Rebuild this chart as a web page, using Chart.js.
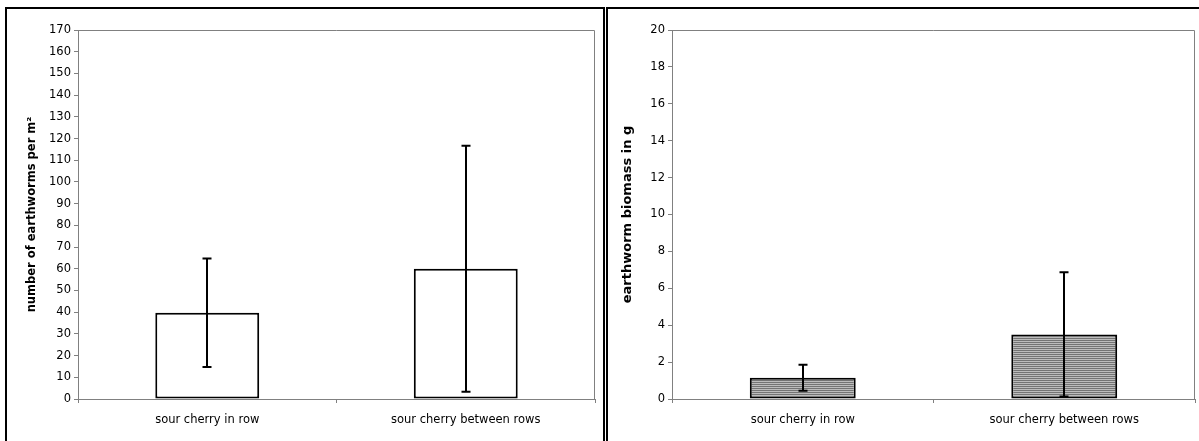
<!DOCTYPE html>
<html>
<head>
<meta charset="utf-8">
<script src="https://cdn.jsdelivr.net/npm/chart.js@4"></script>
<style>
  html, body { margin: 0; padding: 0; background: #fff; overflow: hidden; }
  body { width: 1199px; height: 441px; position: relative; }
  canvas { position: absolute; top: 0; }
  .panel { position: absolute; top: 7px; height: 500px; border: 2px solid #000; box-sizing: border-box; pointer-events: none; z-index: 2; }
</style>
</head>
<body>
<canvas id="leftChart" width="604" height="441" style="left:0px"></canvas>
<canvas id="rightChart" width="593" height="441" style="left:606px"></canvas>
<div class="panel" style="left:5px; width:600px"></div>
<div class="panel" style="left:606px; width:700px"></div>
<script>
// data
var categories = ["sour cherry in row", "sour cherry between rows"];

var wormCount = [39.7, 60];
var wormCountErr = [25, 56.7];

var wormBiomass = [1.15, 3.5];
var wormBiomassErr = [0.7, 3.37];

var fontFam = "'DejaVu Sans', sans-serif";
var axisGrey = "#808080";

// horizontal line hatch for the biomass bars
function hatch() {
  var c = document.createElement("canvas");
  c.width = 4; c.height = 2;
  var g = c.getContext("2d");
  g.fillStyle = "#bcbcbc"; g.fillRect(0, 0, 4, 2);
  g.fillStyle = "#747474"; g.fillRect(0, 0, 4, 1);
  return g.createPattern(c, "repeat");
}

// grey frame round the plot area, like the old spreadsheet look
var frame = {
  id: "frame",
  beforeDatasetsDraw: function(chart) {
    var a = chart.chartArea, ctx = chart.ctx;
    ctx.save();
    ctx.strokeStyle = axisGrey;
    ctx.lineWidth = 1;
    ctx.beginPath();
    ctx.moveTo(a.left, a.top + 0.5);
    ctx.lineTo(a.right - 0.5, a.top + 0.5);
    ctx.lineTo(a.right - 0.5, a.bottom);
    ctx.stroke();
    ctx.restore();
  }
};

// error bars through the chart's own scales
var errBars = {
  id: "errBars",
  afterDatasetsDraw: function(chart, args, opts) {
    var xs = chart.scales.x, ys = chart.scales.y, ctx = chart.ctx;
    var vals = chart.data.datasets[0].data;
    ctx.save();
    ctx.strokeStyle = "#000";
    ctx.lineWidth = 2;
    vals.forEach(function(v, i) {
      var e = opts.errors[i];
      var x = Math.round(xs.getPixelForValue(i));
      var hi = ys.getPixelForValue(v + e);
      var lo = ys.getPixelForValue(v - e);
      ctx.beginPath();
      ctx.moveTo(x, hi); ctx.lineTo(x, lo);
      ctx.moveTo(x - 4.5, hi); ctx.lineTo(x + 4.5, hi);
      ctx.moveTo(x - 4.5, lo); ctx.lineTo(x + 4.5, lo);
      ctx.stroke();
    });
    ctx.restore();
  }
};

function makeChart(id, values, errors, fill, yMax, yStep, yTitle, titleSize, yWidth, titlePad, padRight, barPct) {
  return new Chart(document.getElementById(id), {
    type: "bar",
    data: {
      labels: categories,
      datasets: [{
        data: values,
        backgroundColor: fill,
        borderColor: "#000",
        borderWidth: 2,
        borderSkipped: false,
        categoryPercentage: 1,
        barPercentage: barPct
      }]
    },
    options: {
      responsive: false,
      devicePixelRatio: 1,
      animation: false,
      layout: { padding: { top: 30, right: padRight, left: 0, bottom: 0 } },
      plugins: {
        legend: { display: false },
        tooltip: { enabled: false },
        errBars: { errors: errors }
      },
      scales: {
        x: {
          grid: { drawOnChartArea: false, tickLength: 4, color: axisGrey, offset: true },
          border: { color: axisGrey, width: 1 },
          ticks: { color: "#000", padding: 10, maxRotation: 0, font: { family: fontFam, size: 11.5 } },
          afterFit: function(s) { s.height = 42; }
        },
        y: {
          min: 0,
          max: yMax,
          grid: { drawOnChartArea: false, tickLength: 4, color: axisGrey },
          border: { color: axisGrey, width: 1 },
          ticks: { stepSize: yStep, color: "#000", padding: 3, font: { family: fontFam, size: 11.5 } },
          title: {
            display: true,
            text: yTitle,
            color: "#000",
            padding: { top: titlePad, bottom: 0 },
            font: { family: fontFam, size: titleSize, weight: "bold" }
          },
          afterFit: function(s) { s.width = yWidth; }
        }
      }
    },
    plugins: [frame, errBars]
  });
}

makeChart("leftChart", wormCount, wormCountErr, "#ffffff", 170, 10,
  "number of earthworms per m²", 11.5, 78, 25.5, 9, 0.402);
makeChart("rightChart", wormBiomass, wormBiomassErr, hatch(), 20, 2,
  "earthworm biomass in g", 13, 66, 13.5, 4, 0.405);
</script>
</body>
</html>
